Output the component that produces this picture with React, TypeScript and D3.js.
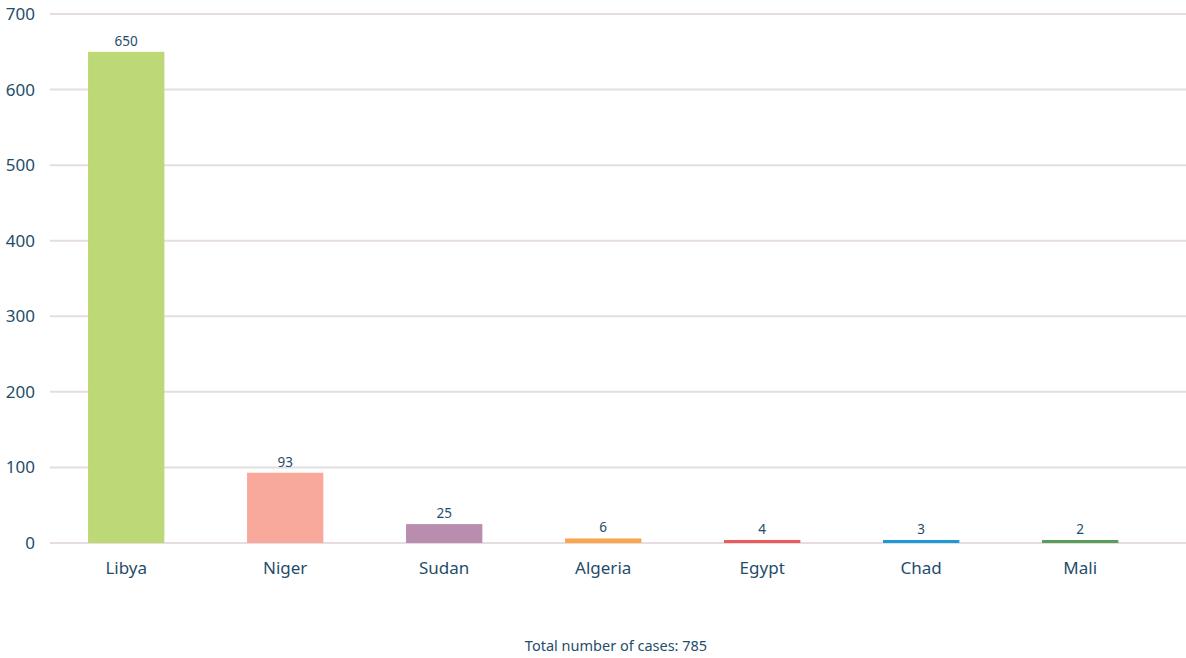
import React from "react";
import * as d3 from "d3";

const categories = ["Libya", "Niger", "Sudan", "Algeria", "Egypt", "Chad", "Mali"];
const values = [650, 93, 25, 6, 4, 3, 2];
const colors = ["#bdd977", "#f8a99c", "#b88dae", "#f8a54b", "#ec5a5a", "#1a9ad6", "#5b9e5b"];
const yTicks = [0, 100, 200, 300, 400, 500, 600, 700];
const footer = "Total number of cases: 785";

const W = 1186;
const H = 658;
const FONT = "'Noto Sans', 'Open Sans', sans-serif";
const TEXT = "#1f4d6b";

export default function App() {
  const x = d3.scaleBand<string>().domain(categories).range([46.7, 1159.7]).paddingInner(0.52).paddingOuter(0.26);
  const y = d3.scaleLinear().domain([0, 700]).range([543, 14]);
  return (
    <svg width={W} height={H} style={{ position: "absolute", left: 0, top: 0, background: "#fff" }}>
      {yTicks.map((t) => (
        <g key={t}>
          <line x1={50} x2={W} y1={y(t)} y2={y(t)} stroke="#e6dde1" strokeWidth={2} />
          <text x={35} y={y(t)} dy="0.35em" textAnchor="end" fontFamily={FONT} fontSize={17} fill={TEXT}>
            {t}
          </text>
        </g>
      ))}
      {categories.map((c, i) => {
        const bx = x(c)!;
        const bw = x.bandwidth();
        const top = y(values[i]);
        return (
          <g key={c}>
            <rect x={bx} y={Math.min(top, y(0) - 3)} width={bw} height={Math.max(y(0) - top, 3)} fill={colors[i]} />
            <text x={bx + bw / 2} y={Math.min(top, y(0) - 3) - 6} textAnchor="middle" fontFamily={FONT} fontSize={13.5} fill={TEXT}>
              {values[i]}
            </text>
            <text x={bx + bw / 2} y={574} textAnchor="middle" fontFamily={FONT} fontSize={17} fill={TEXT}>
              {c}
            </text>
          </g>
        );
      })}
      <text x={616} y={651} textAnchor="middle" fontFamily={FONT} fontSize={14.5} fill={TEXT}>
        {footer}
      </text>
    </svg>
  );
}
